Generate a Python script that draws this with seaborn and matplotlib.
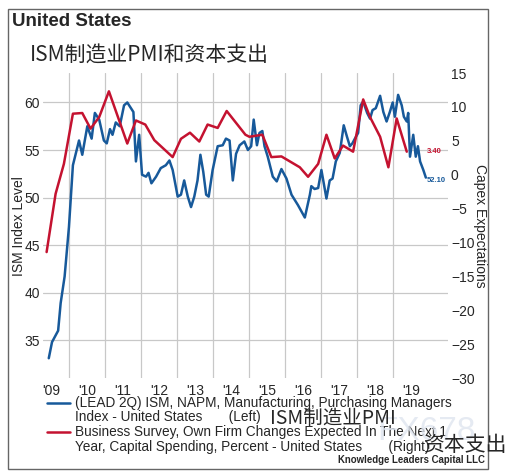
import pandas as pd
import matplotlib.pyplot as plt
import seaborn as sns
from matplotlib.lines import Line2D
from matplotlib.patches import Rectangle

# ISM (lead 2Q), left axis - decimal year / index level
ism_dates = [2009.44, 2009.53, 2009.70, 2009.77, 2009.88, 2010.00, 2010.11, 2010.28, 2010.37, 2010.51,
             2010.63, 2010.72, 2010.84, 2010.97, 2011.05, 2011.14, 2011.21, 2011.30, 2011.41, 2011.53,
             2011.62, 2011.79, 2011.86, 2011.95, 2012.03, 2012.14, 2012.21, 2012.29, 2012.42, 2012.55,
             2012.69, 2012.79, 2012.88, 2013.02, 2013.11, 2013.20, 2013.30, 2013.39, 2013.48, 2013.57,
             2013.65, 2013.73, 2013.81, 2013.88, 2013.99, 2014.13, 2014.27, 2014.36, 2014.46, 2014.55,
             2014.64, 2014.74, 2014.87, 2014.97, 2015.06, 2015.13, 2015.22, 2015.29, 2015.37, 2015.43,
             2015.52, 2015.66, 2015.77, 2015.90, 2016.04, 2016.18, 2016.36, 2016.55, 2016.69, 2016.73,
             2016.82, 2016.92, 2017.01, 2017.15, 2017.24, 2017.32, 2017.41, 2017.52, 2017.63, 2017.72,
             2017.80, 2017.87, 2017.94, 2018.03, 2018.10, 2018.17, 2018.28, 2018.36, 2018.43, 2018.52,
             2018.64, 2018.73, 2018.82, 2018.91, 2018.99, 2019.05, 2019.14, 2019.24, 2019.30, 2019.38,
             2019.42, 2019.47, 2019.56, 2019.63, 2019.69, 2019.75, 2019.84, 2019.91]
ism_values = [33.1, 34.8, 36.0, 38.9, 41.7, 46.9, 53.4, 56.0, 54.5, 57.5,
              56.2, 58.9, 58.2, 56.0, 55.7, 57.2, 56.6, 57.9, 57.5, 59.7,
              60.0, 59.0, 53.8, 56.6, 52.4, 52.2, 52.6, 51.5, 52.2, 53.1,
              53.4, 53.9, 52.9, 50.1, 50.3, 51.8, 50.1, 49.0, 50.1, 51.8,
              54.5, 52.7, 50.3, 50.1, 52.9, 55.4, 55.5, 56.2, 56.0, 51.8,
              54.6, 55.5, 55.9, 55.0, 55.4, 58.2, 55.5, 56.8, 57.0, 55.4,
              54.3, 52.2, 51.7, 53.0, 52.0, 50.3, 49.2, 47.9, 50.3, 51.2,
              50.9, 51.0, 52.9, 49.9, 51.8, 52.0, 53.8, 54.7, 57.6, 56.4,
              55.4, 55.7, 56.2, 56.8, 59.7, 60.1, 58.9, 58.3, 59.2, 59.4,
              60.7, 59.0, 58.0, 59.0, 60.0, 58.5, 60.8, 59.7, 58.5, 58.0,
              58.9, 54.3, 56.6, 54.3, 55.4, 53.8, 52.9, 52.1]

# Capex expectations survey, right axis
capex_dates = [2009.38, 2009.63, 2009.86, 2010.11, 2010.37, 2010.60, 2010.84, 2011.11, 2011.62, 2011.86,
               2012.12, 2012.37, 2012.88, 2013.11, 2013.36, 2013.62, 2013.85, 2014.13, 2014.38, 2014.90,
               2015.01, 2015.37, 2015.62, 2015.90, 2016.41, 2016.64, 2016.92, 2017.15, 2017.38, 2017.61,
               2017.89, 2018.17, 2018.36, 2018.64, 2018.87, 2019.10, 2019.38]
capex_values = [-11.4, -2.8, 1.6, 9.0, 9.1, 6.8, 8.5, 12.3, 4.6, 8.0,
                7.4, 5.1, 2.6, 5.3, 6.2, 4.9, 7.4, 6.9, 9.4, 5.9,
                5.6, 5.9, 2.6, 2.7, 1.1, -0.3, 1.6, 5.9, 2.4, 4.3,
                3.4, 11.1, 8.5, 5.6, 1.1, 8.3, 3.4]

year_starts = list(range(2010, 2020))
year_labels = ["'09", "'10", "'11", "'12", "'13", "'14", "'15", "'16", "'17", "'18", "'19"]
left_ticks = [35, 40, 45, 50, 55, 60]
right_ticks = [-30, -25, -20, -15, -10, -5, 0, 5, 10, 15]

ism_df = pd.DataFrame({"date": ism_dates, "value": ism_values})
capex_df = pd.DataFrame({"date": capex_dates, "value": capex_values})

BLUE = "#17599a"
RED = "#c41230"
CJK = ["Noto Sans CJK SC", "DejaVu Sans"]

sns.set_style("white")
plt.rcParams["font.family"] = ["Liberation Sans", "DejaVu Sans"]

fig = plt.figure(figsize=(5.09, 4.71), dpi=100)
ax = fig.add_axes([0.0845, 0.197, 0.796, 0.648])
ax2 = ax.twinx()

sns.lineplot(data=ism_df, x="date", y="value", ax=ax, color=BLUE, linewidth=1.8)
sns.lineplot(data=capex_df, x="date", y="value", ax=ax2, color=RED, linewidth=1.8)

ax.set_xlim(2009.28, 2020.53)
ax.set_ylim(31, 63.1)
ax2.set_ylim(-30, 15)

ax.set_xticks(year_starts)
ax.set_xticklabels([])
ax.set_xticks([y + 0.5 for y in range(2009, 2020)], minor=True)
ax.set_xticklabels(year_labels, minor=True, fontsize=10)
ax.tick_params(axis="x", which="both", length=0, pad=4)
ax.set_yticks(left_ticks)
ax.tick_params(axis="y", length=0, pad=2, labelsize=10)
ax2.set_yticks(right_ticks)
ax2.tick_params(axis="y", length=0, pad=2, labelsize=10)

ax.grid(True, which="major", color="#c8c8c8", linewidth=0.9)
ax.set_axisbelow(True)
for a in (ax, ax2):
    for s in a.spines.values():
        s.set_visible(False)

ax.set_xlabel("")
ax.set_ylabel("ISM Index Level", fontsize=10, labelpad=-1)
ax2.set_ylabel("Capex Expectations", fontsize=10, rotation=270, labelpad=9)

# end-of-series value labels
ax.annotate(f"{ism_values[-1]:.2f}", (ism_dates[-1], ism_values[-1]), xytext=(1, -2),
            textcoords="offset points", fontsize=5.5, fontweight="bold", color=BLUE, va="center")
ax2.annotate(f"{capex_values[-1]:.2f}", (ism_dates[-1], capex_values[-1]), xytext=(1, 0),
             textcoords="offset points", fontsize=5.5, fontweight="bold", color=RED, va="center")

# titles
fig.text(12 / 509, 1 - 22 / 471, "United States", fontsize=13.5, fontweight="bold", va="center")
fig.text(30 / 509, 1 - 56 / 471, "ISM制造业PMI和资本支出", fontsize=15, family=CJK, va="center")

# legend
leg_lines = [("(LEAD 2Q) ISM, NAPM, Manufacturing, Purchasing Managers",
              "Index - United States       (Left)", BLUE, 403),
             ("Business Survey, Own Firm Changes Expected In The Next 1",
              "Year, Capital Spending, Percent - United States       (Right)", RED, 432)]
for first, second, col, ypix in leg_lines:
    fig.add_artist(Line2D([47 / 509, 70 / 509], [1 - ypix / 471] * 2, color=col, linewidth=1.8))
    fig.text(75 / 509, 1 - ypix / 471, first, fontsize=9.8, va="center")
    fig.text(75 / 509, 1 - (ypix + 14.5) / 471, second, fontsize=9.8, va="center")

fig.text(377 / 509, 1 - 432 / 471, "FX678", fontsize=24, color="#dfe5ef", alpha=0.8, va="center")
fig.text(270 / 509, 1 - 418 / 471, "ISM制造业PMI", fontsize=14, family=CJK, va="center")
fig.text(423 / 509, 1 - 445 / 471, "资本支出", fontsize=15, family=CJK, va="center")
fig.text(485 / 509, 1 - 460 / 471, "Knowledge Leaders Capital LLC", fontsize=6.9,
         fontweight="bold", ha="right", va="center")

# outer frame
fig.add_artist(Rectangle((8 / 509, 1 - 469 / 471), 480 / 509, 460 / 471, transform=fig.transFigure,
                         fill=False, edgecolor="#666666", linewidth=1))

fig.savefig("out.png", dpi=100)
